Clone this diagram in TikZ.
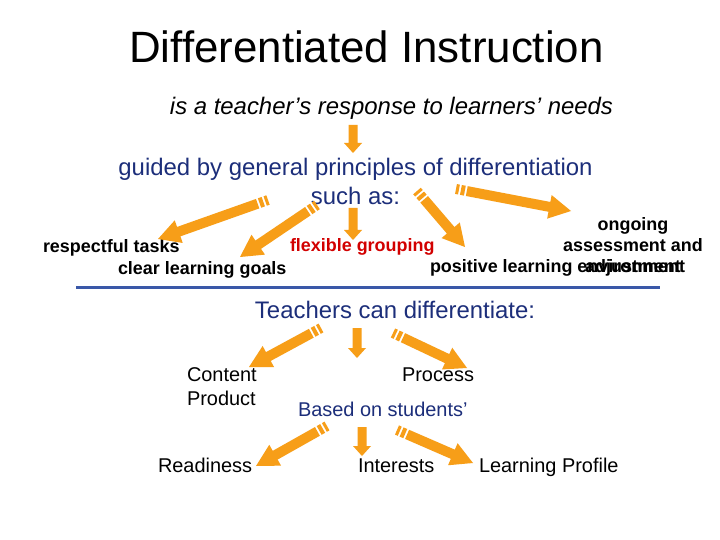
\documentclass[tikz,border=0pt]{standalone}
\usepackage{fontspec}
\setmainfont{Liberation Sans}
\usetikzlibrary{calc}
\definecolor{navy}{RGB}{28,46,122}
\definecolor{arrorange}{RGB}{247,158,24}
\definecolor{ruleblue}{RGB}{58,88,168}
\definecolor{flexred}{RGB}{210,0,0}
\tikzset{
  arrowfill/.style={fill=arrorange},
  txt/.style={inner sep=0pt, outer sep=0pt},
  big/.style={txt, font=\fontsize{44}{53}\selectfont},
  mid/.style={txt, font=\fontsize{24}{29}\selectfont},
  boldlbl/.style={txt, font=\fontsize{18}{22}\selectfont\bfseries},
  lbl/.style={txt, font=\fontsize{20}{24}\selectfont},
}
% block arrow: #1 tail, #2 tip, #3 shaft half width, #4 head length, #5 head half width
\newcommand\blkarrow[5]{%
  \coordinate (ba-h) at ($(#2)!#4!(#1)$);
  \fill[arrowfill] ($(#1)!#3!90:(#2)$) -- ($(ba-h)!#3!90:(#2)$) -- ($(ba-h)!#5!90:(#2)$)
    -- (#2) -- ($(ba-h)!#5!-90:(#2)$) -- ($(ba-h)!#3!-90:(#2)$) -- ($(#1)!#3!-90:(#2)$) -- cycle;
}
% striped-tail block arrow: #1 tail, #2 tip
\newcommand\stparrow[2]{%
  \coordinate (sa-a) at ($(#1)!3bp!(#2)$);
  \coordinate (sa-b) at ($(#1)!5bp!(#2)$);
  \coordinate (sa-c) at ($(#1)!9bp!(#2)$);
  \coordinate (sa-d) at ($(#1)!11bp!(#2)$);
  \fill[arrowfill] ($(#1)!5bp!90:(#2)$) -- ($(sa-a)!5bp!90:(#2)$) -- ($(sa-a)!5bp!-90:(#2)$) -- ($(#1)!5bp!-90:(#2)$) -- cycle;
  \fill[arrowfill] ($(sa-b)!5bp!90:(#2)$) -- ($(sa-c)!5bp!90:(#2)$) -- ($(sa-c)!5bp!-90:(#2)$) -- ($(sa-b)!5bp!-90:(#2)$) -- cycle;
  \blkarrow{sa-d}{#2}{5bp}{22bp}{12bp}%
}
\newcommand\dnarrow[2]{\blkarrow{#1}{#2}{4.5bp}{10bp}{9bp}}
\begin{document}
\begin{tikzpicture}[x=1bp,y=-1bp]
\useasboundingbox[fill=white] (0,0) rectangle (720,540);

% texts
\node[big, anchor=base] (title) at (366.5,63) {Differentiated Instruction};
\node[mid, anchor=base, font=\fontsize{24}{29}\selectfont\itshape] (sub) at (391.5,115) {is a teacher’s response to learners’ needs};
\node[mid, anchor=base, text=navy] (guide1) at (355.5,176) {guided by general principles of differentiation};
\node[mid, anchor=base, text=navy] (guide2) at (355.5,205) {such as:};

\node[boldlbl, anchor=base west] (resp) at (43,253) {respectful tasks};
\node[boldlbl, anchor=base west] (clear) at (118,275) {clear learning goals};
\node[boldlbl, anchor=base west, text=flexred] (flex) at (290,252) {flexible grouping};
\node[boldlbl, anchor=base] (ong1) at (633,231) {ongoing};
\node[boldlbl, anchor=base] (ong2) at (633,252) {assessment and};
\node[boldlbl, anchor=base west] (pos) at (430,273) {positive learning environment};
\node[boldlbl, anchor=base] (ong3) at (633,273) {adjustment};

\coordinate (ruleL) at (76,287);
\coordinate (ruleR) at (660,287);
\draw[ruleblue, line width=3bp] (ruleL) -- (ruleR);

\node[mid, anchor=base, text=navy] (teach) at (395,318) {Teachers can differentiate:};
\node[lbl, anchor=base west] (content) at (187,381) {Content};
\node[lbl, anchor=base west] (product) at (187,405) {Product};
\node[lbl, anchor=base west] (process) at (402,381) {Process};
\node[lbl, anchor=base west, text=navy] (based) at (298,416) {Based on students’};
\node[lbl, anchor=base west] (ready) at (158,472) {Readiness};
\node[lbl, anchor=base west] (inter) at (358,472) {Interests};
\node[lbl, anchor=base west] (learn) at (479,472) {Learning Profile};

% arrow end points
\coordinate (t0) at (353,125);  \coordinate (h0) at (353,153);
\coordinate (t1) at (268,200);  \coordinate (h1) at (158,239);
\coordinate (t2) at (317,205);  \coordinate (h2) at (240,257);
\coordinate (t3) at (353,208);  \coordinate (h3) at (353,240);
\coordinate (t4) at (417,191);  \coordinate (h4) at (465,247);
\coordinate (t5) at (456,189);  \coordinate (h5) at (571,211);
\coordinate (t6) at (321,328);  \coordinate (h6) at (249,367);
\coordinate (t7) at (357,328);  \coordinate (h7) at (357,358);
\coordinate (t8) at (393,333);  \coordinate (h8) at (467,368);
\coordinate (t9) at (327,426);  \coordinate (h9) at (256,466);
\coordinate (t10) at (362,427); \coordinate (h10) at (362,456);
\coordinate (t11) at (397,430); \coordinate (h11) at (473,463);

\dnarrow{t0}{h0}
\stparrow{t1}{h1}
\stparrow{t2}{h2}
\dnarrow{t3}{h3}
\stparrow{t4}{h4}
\stparrow{t5}{h5}
\stparrow{t6}{h6}
\dnarrow{t7}{h7}
\stparrow{t8}{h8}
\stparrow{t9}{h9}
\dnarrow{t10}{h10}
\stparrow{t11}{h11}
\end{tikzpicture}
\end{document}
